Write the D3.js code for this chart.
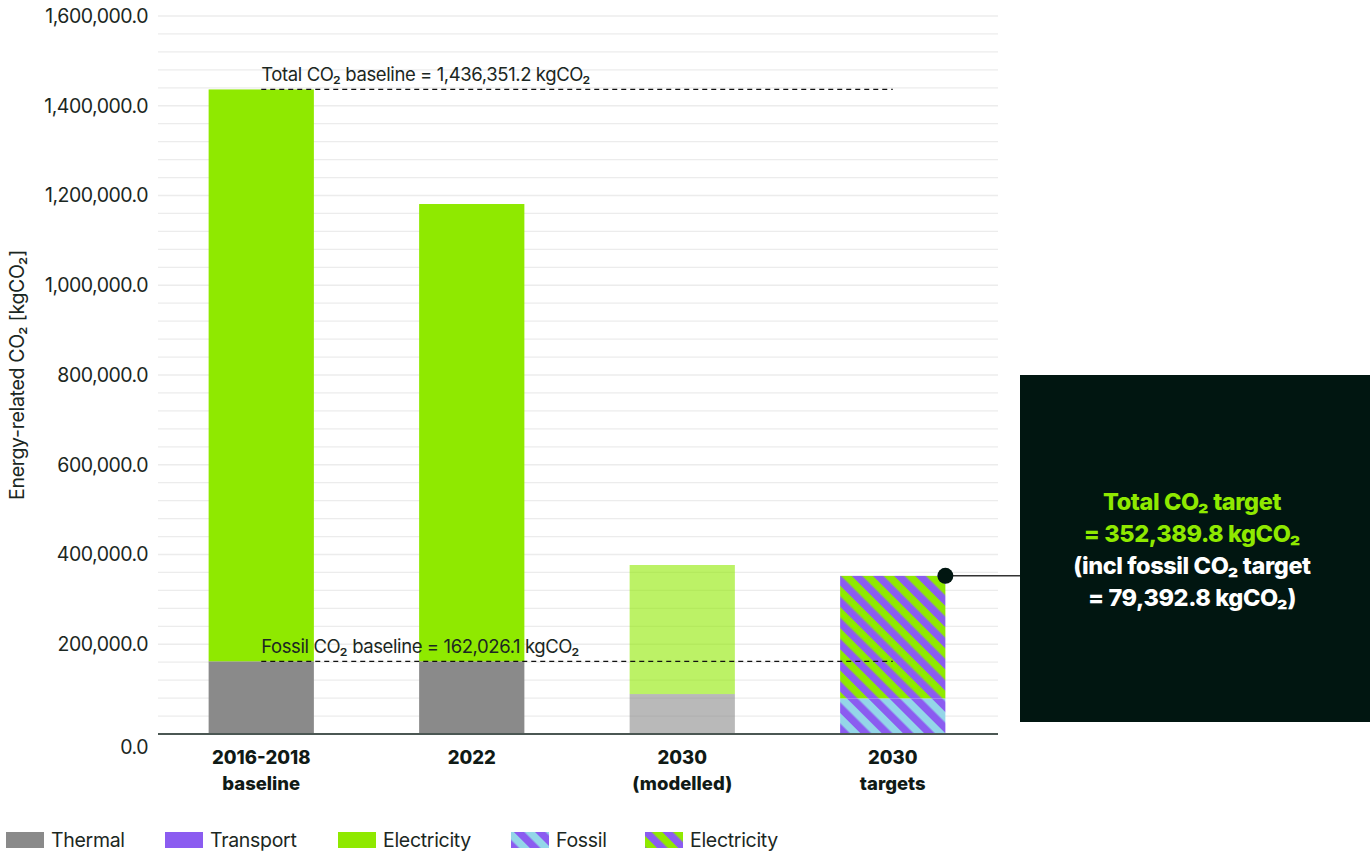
<!DOCTYPE html>
<html><head><meta charset="utf-8">
<script src="https://cdn.jsdelivr.net/npm/d3@7"></script>
<style>
body{margin:0;background:#fff;}
text{font-family:Inter,"Noto Sans",sans-serif;}
</style></head>
<body><svg id="c" width="1370" height="854"></svg>
<script>
const categories = [["2016-2018","baseline"],["2022"],["2030","(modelled)"],["2030","targets"]];
const thermal = [162026.1, 162026.1, 89000, 0];
const electricity = [1274325.1, 1019000, 287600, 0];
const fossilTarget = [0, 0, 0, 79392.8];
const electricityTarget = [0, 0, 0, 272997.0];
const yTicks = [0, 200000, 400000, 600000, 800000, 1000000, 1200000, 1400000, 1600000];
const totalBaseline = 1436351.2;
const fossilBaseline = 162026.1;
const legendItems = ["Thermal","Transport","Electricity","Fossil","Electricity"];

const GREEN="#8fe900", PURPLE="#8b5cf0", GREY="#8a8a8a", BLUE="#94d6e8", DARK="#011611", TXT="#1b2722";
const svg=d3.select("#c");
const defs=svg.append("defs");
function hatch(id,c2){
  const s=15;
  const p=defs.append("pattern").attr("id",id).attr("patternUnits","userSpaceOnUse")
    .attr("width",s).attr("height",s).attr("patternTransform","rotate(45)");
  p.append("rect").attr("width",s).attr("height",s).attr("fill",PURPLE);
  p.append("rect").attr("width",s).attr("height",s/2).attr("fill",c2);
}
hatch("hG",GREEN); hatch("hB",BLUE);

const x=d3.scaleBand().domain(d3.range(categories.length)).range([156,998]).paddingInner(0.5).paddingOuter(0.25);
const y=d3.scaleLinear().domain([0,1600000]).range([734,16]);

// grid
svg.append("g").selectAll("line").data(d3.range(40000,1600001,40000)).join("line")
  .attr("x1",158).attr("x2",998).attr("y1",d=>y(d)).attr("y2",d=>y(d))
  .attr("stroke","#ececec").attr("stroke-width",1.3);

// y axis labels
const ya=svg.append("g").attr("transform","translate(158,0)").call(d3.axisLeft(y).tickValues(yTicks).tickSize(0).tickPadding(10).tickFormat(d=>d3.format(",.1f")(d)));
ya.select(".domain").remove();
ya.selectAll("text").attr("font-size",19.5).attr("fill",TXT).attr("font-family","Inter,sans-serif").attr("letter-spacing","-0.5");
ya.selectAll(".tick").filter(d=>d===0).select("text").attr("dy","1.0em");

svg.append("text").attr("transform","translate(24,375) rotate(-90)").attr("text-anchor","middle")
  .attr("font-size",19.5).attr("fill",TXT).attr("letter-spacing","-0.3").text("Energy-related CO₂ [kgCO₂]");

// bars
const bw=x.bandwidth();
const g=svg.append("g");
categories.forEach((c,i)=>{
  const op = i===2?0.6:1;
  if(thermal[i]>0) g.append("rect").attr("x",x(i)).attr("width",bw).attr("y",y(thermal[i])).attr("height",y(0)-y(thermal[i])).attr("fill",GREY).attr("opacity",op);
  if(electricity[i]>0) g.append("rect").attr("x",x(i)).attr("width",bw).attr("y",y(thermal[i]+electricity[i])).attr("height",y(thermal[i])-y(thermal[i]+electricity[i])).attr("fill",GREEN).attr("opacity",op);
  if(fossilTarget[i]>0) g.append("rect").attr("x",x(i)).attr("width",bw).attr("y",y(fossilTarget[i])).attr("height",y(0)-y(fossilTarget[i])).attr("fill","url(#hB)");
  if(electricityTarget[i]>0) g.append("rect").attr("x",x(i)).attr("width",bw).attr("y",y(fossilTarget[i]+electricityTarget[i])).attr("height",y(fossilTarget[i])-y(fossilTarget[i]+electricityTarget[i])).attr("fill","url(#hG)");
});

// baseline axis
svg.append("line").attr("x1",158).attr("x2",998).attr("y1",y(0)).attr("y2",y(0)).attr("stroke","#4b5753").attr("stroke-width",2);

// x labels
categories.forEach((c,i)=>{
  const t=svg.append("text").attr("x",x(i)+bw/2).attr("y",764).attr("text-anchor","middle").attr("font-size",18.5).attr("font-weight",800).attr("fill","#101a16");
  c.forEach((l,j)=>t.append("tspan").attr("x",x(i)+bw/2).attr("dy",j?26:0).text(l));
});

// reference lines
const x1=x(0)+bw/2, x2=x(3)+bw/2;
[[totalBaseline,"Total CO₂ baseline = 1,436,351.2 kgCO₂"],[fossilBaseline,"Fossil CO₂ baseline = 162,026.1 kgCO₂"]].forEach(([v,l])=>{
  svg.append("line").attr("x1",x1).attr("x2",x2).attr("y1",y(v)).attr("y2",y(v)).attr("stroke","#111").attr("stroke-width",1.2).attr("stroke-dasharray","5,4");
  svg.append("text").attr("x",x1).attr("y",y(v)-8).attr("font-size",18.5).attr("fill",TXT).attr("letter-spacing","-0.4").text(l);
});

// annotation
const tgt=fossilTarget[3]+electricityTarget[3];
svg.append("line").attr("x1",x(3)+bw).attr("x2",1020).attr("y1",y(tgt)).attr("y2",y(tgt)).attr("stroke","#333").attr("stroke-width",1.5);
svg.append("circle").attr("cx",x(3)+bw).attr("cy",y(tgt)).attr("r",8).attr("fill",DARK);
svg.append("rect").attr("x",1020).attr("y",375).attr("width",350).attr("height",347).attr("fill",DARK);
const ann=[["Total CO₂ target",GREEN],["= 352,389.8 kgCO₂",GREEN],["(incl fossil CO₂ target","#fff"],["= 79,392.8 kgCO₂)","#fff"]];
ann.forEach((a,i)=>svg.append("text").attr("x",1192).attr("y",510+i*32).attr("text-anchor","middle").attr("font-size",23.5).attr("font-weight",800).attr("letter-spacing","-0.4").attr("fill",a[1]).text(a[0]));

// legend
const lx=[6,165,338,511,645];
const lf=[GREY,PURPLE,GREEN,"url(#hB)","url(#hG)"];
legendItems.forEach((l,i)=>{
  svg.append("rect").attr("x",lx[i]).attr("y",832).attr("width",38).attr("height",16).attr("fill",lf[i]);
  svg.append("text").attr("x",lx[i]+45).attr("y",847).attr("font-size",19.5).attr("fill",TXT).attr("letter-spacing","-0.3").text(l);
});
</script></body></html>
